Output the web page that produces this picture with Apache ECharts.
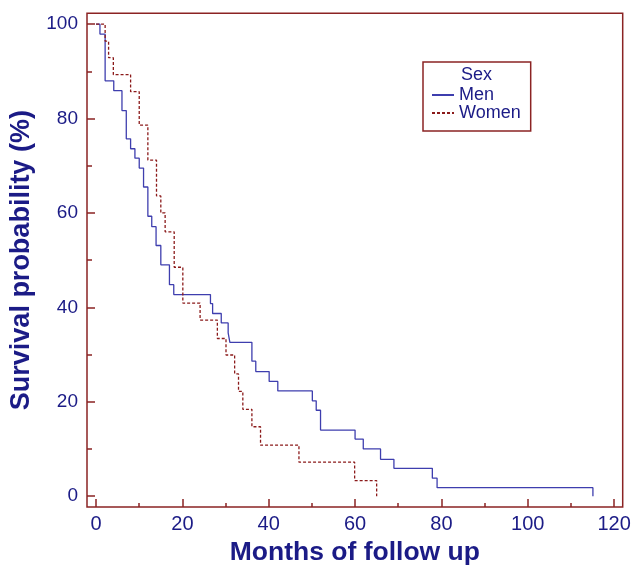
<!DOCTYPE html>
<html>
<head>
<meta charset="utf-8">
<script src="https://cdn.jsdelivr.net/npm/echarts@6/dist/echarts.min.js"></script>
<style>
html,body{margin:0;padding:0;background:#fff;}
#chart{width:633px;height:565px;}
</style>
</head>
<body>
<div id="chart"></div>
<script>
// Kaplan-Meier step points (month of event, survival % after the step)
const monthsMen = [0, 0.9, 2.1, 4.1, 6.0, 7.0, 8.0, 9.0, 10.0, 11.0, 12.0, 12.9, 13.9, 15.0, 17.0, 18.0, 26.5, 27.0, 29.0, 30.6, 31.0, 36.1, 37.0, 40.1, 42.1, 50.1, 51.0, 52.0, 60.0, 61.9, 65.9, 69.0, 77.9, 79.0, 115.1];
const survMen = [100, 97.9, 88.0, 85.9, 81.7, 75.7, 73.6, 71.6, 69.5, 65.5, 59.3, 57.1, 53.1, 49.0, 44.8, 42.7, 40.8, 38.7, 36.7, 34.6, 32.6, 28.6, 26.4, 24.3, 22.3, 20.2, 18.2, 14.0, 12.1, 10.0, 7.8, 5.9, 3.8, 1.8, 0];
const monthsWomen = [0, 2.1, 2.9, 4.0, 8.0, 10.0, 12.0, 14.0, 15.0, 16.0, 18.1, 20.1, 24.1, 28.1, 30.1, 32.1, 33.0, 34.0, 36.1, 38.1, 47.0, 59.9, 65.0];
const survWomen = [100, 96.4, 92.9, 89.3, 85.7, 78.6, 71.2, 63.6, 60.0, 56.0, 48.5, 40.9, 37.3, 33.4, 29.9, 25.9, 22.2, 18.4, 14.7, 10.8, 7.2, 3.3, 0];
const seriesNames = ['Men', 'Women'];
const legendTitle = 'Sex';
const xTitle = 'Months of follow up';
const yTitle = 'Survival probability (%)';
const xMajorTicks = [0, 20, 40, 60, 80, 100, 120];
const xMinorTicks = [10, 30, 50, 70, 90, 110];
const yMajorTicks = [0, 20, 40, 60, 80, 100];
const yMinorTicks = [10, 30, 50, 70, 90];
const xRange = [-2.1, 122];
const yRange = [-2.3, 102.3];

const FONT = '"Liberation Sans", Arial, sans-serif';
const NAVY = '#1b1b86';
const FRAME = '#8b2323';
const BLUE = '#3e3eae';
const RED = '#8b1a1a';

const zip = (a, b) => a.map((v, i) => [v, b[i]]);
const tickStyle = { color: FRAME, width: 1.5 };
const hiddenLine = { show: false, onZero: false };

const chart = echarts.init(document.getElementById('chart'));
chart.setOption({
  animation: false,
  backgroundColor: '#fff',
  textStyle: { fontFamily: FONT },
  title: {
    text: legendTitle,
    left: 461, top: 66,
    padding: 0,
    textStyle: { fontFamily: FONT, fontSize: 18, fontWeight: 'normal', color: NAVY }
  },
  legend: {
    data: seriesNames,
    orient: 'vertical',
    left: 423, top: 62,
    padding: [24, 10, 9, 8],
    itemWidth: 22, itemHeight: 10, itemGap: 0,
    itemStyle: { opacity: 0 },
    borderColor: FRAME, borderWidth: 1.5,
    textStyle: { fontFamily: FONT, fontSize: 18, color: NAVY, lineHeight: 17 }
  },
  grid: {
    left: 87, right: 10.3, top: 13.3, bottom: 58,
    containLabel: false,
    outerBoundsMode: 'none',
    show: true, borderColor: FRAME, borderWidth: 1.5, backgroundColor: 'transparent'
  },
  xAxis: [{
    type: 'value', min: xRange[0], max: xRange[1],
    name: xTitle, nameLocation: 'middle', nameGap: 31,
    nameTextStyle: { fontFamily: FONT, fontSize: 26.5, fontWeight: 'bold', color: NAVY },
    axisLine: hiddenLine,
    axisTick: { show: true, inside: true, length: 8, customValues: xMajorTicks, lineStyle: tickStyle },
    axisLabel: { fontFamily: FONT, fontSize: 20, color: NAVY, margin: 7, customValues: xMajorTicks },
    splitLine: { show: false }
  }, {
    type: 'value', min: xRange[0], max: xRange[1], position: 'bottom',
    axisLine: hiddenLine,
    axisTick: { show: true, inside: true, length: 4, customValues: xMinorTicks, lineStyle: tickStyle },
    axisLabel: { show: false },
    splitLine: { show: false }
  }],
  yAxis: [{
    type: 'value', min: yRange[0], max: yRange[1],
    name: yTitle, nameLocation: 'middle', nameGap: 41,
    nameTextStyle: { fontFamily: FONT, fontSize: 27, fontWeight: 'bold', color: NAVY },
    axisLine: hiddenLine,
    axisTick: { show: true, inside: true, length: 8, customValues: yMajorTicks, lineStyle: tickStyle },
    axisLabel: { fontFamily: FONT, fontSize: 19, color: NAVY, margin: 9, customValues: yMajorTicks },
    splitLine: { show: false }
  }, {
    type: 'value', min: yRange[0], max: yRange[1], position: 'left',
    axisLine: hiddenLine,
    axisTick: { show: true, inside: true, length: 5, customValues: yMinorTicks, lineStyle: tickStyle },
    axisLabel: { show: false },
    splitLine: { show: false }
  }],
  series: [
    {
      name: seriesNames[0], type: 'line', step: 'end',
      xAxisIndex: 0, yAxisIndex: 0,
      data: zip(monthsMen, survMen),
      symbol: 'none',
      lineStyle: { color: BLUE, width: 1.3 },
      itemStyle: { color: BLUE }
    },
    {
      name: seriesNames[1], type: 'line', step: 'end',
      xAxisIndex: 0, yAxisIndex: 0,
      data: zip(monthsWomen, survWomen),
      symbol: 'none',
      lineStyle: { color: RED, width: 1.3, type: [3, 2] },
      itemStyle: { color: RED }
    }
  ]
});
</script>
</body>
</html>
